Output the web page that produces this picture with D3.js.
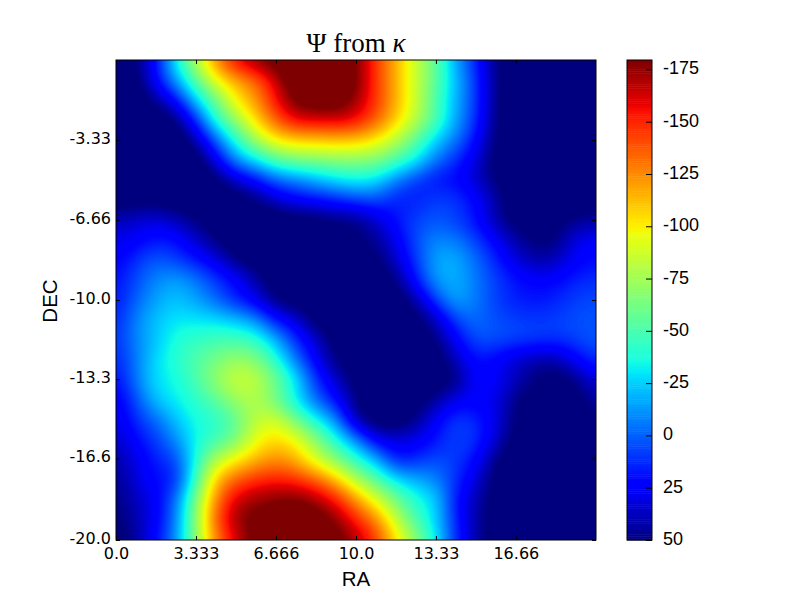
<!DOCTYPE html>
<html>
<head>
<meta charset="utf-8">
<script src="https://cdn.jsdelivr.net/npm/d3@7"></script>
<style>
  html, body { margin: 0; padding: 0; background: #fff; }
  svg { display: block; }
  .tick text { fill: #000; }
</style>
</head>
<body>
<svg id="chart" width="800" height="600"></svg>
<script>
  const raTicks = [0, 3.333, 6.666, 10, 13.33, 16.66];
  const raLabels = ["0.0", "3.333", "6.666", "10.0", "13.33", "16.66"];
  const decTicks = [-3.33, -6.66, -10, -13.3, -16.6, -20];
  const decLabels = ["-3.33", "-6.66", "-10.0", "-13.3", "-16.6", "-20.0"];
  const barTicks = [-175, -150, -125, -100, -75, -50, -25, 0, 25, 50];
  const barLabels = ["-175", "-150", "-125", "-100", "-75", "-50", "-25", "0", "25", "50"];

  // psi, one row per 0.833 in DEC, one column per 0.833 in RA
  const psi = [
    [60, 50, 20, -33, -80, -125, -160, -178, -190, -200, -200, -195, -178, -145, -115, -85, -55, -15, 15, 50, 60, 60, 60, 60, 60],
    [60, 56, 22, -15, -55, -95, -118, -135, -165, -195, -205, -205, -180, -145, -115, -85, -55, -20, 10, 48, 60, 60, 60, 60, 60],
    [60, 60, 45, 20, -25, -60, -100, -122, -155, -182, -190, -190, -172, -145, -115, -85, -50, -18, 10, 50, 60, 60, 60, 60, 60],
    [60, 60, 60, 50, 12, -40, -72, -105, -135, -158, -160, -162, -155, -135, -108, -80, -50, -15, 12, 50, 60, 60, 60, 60, 60],
    [60, 60, 60, 60, 40, 0, -40, -75, -100, -108, -110, -112, -110, -100, -80, -55, -25, -5, 22, 52, 60, 60, 60, 60, 60],
    [60, 60, 60, 60, 60, 28, -10, -30, -52, -62, -65, -68, -68, -65, -50, -32, -5, 12, 32, 55, 60, 60, 60, 60, 60],
    [60, 60, 60, 60, 60, 55, 35, 20, 0, -8, -18, -28, -33, -28, -8, 8, 18, 22, 35, 52, 60, 60, 60, 60, 60],
    [58, 56, 56, 58, 60, 60, 58, 50, 35, 25, 20, 15, 8, 5, 15, 15, 8, 10, 22, 42, 60, 60, 60, 60, 55],
    [40, 35, 32, 40, 50, 58, 60, 60, 60, 58, 55, 50, 48, 35, 18, 8, 3, 8, 20, 42, 55, 58, 55, 48, 45],
    [30, 25, 18, 20, 35, 50, 58, 60, 60, 60, 60, 58, 52, 45, 28, 5, -8, -5, 8, 25, 42, 52, 50, 30, 25],
    [25, 12, 2, 8, 18, 30, 50, 58, 60, 60, 60, 60, 58, 55, 35, 10, -15, -17, -2, 15, 32, 42, 38, 25, 20],
    [20, 5, -8, -14, -5, 10, 22, 42, 58, 60, 60, 60, 60, 58, 50, 18, -12, -17, -5, 8, 18, 24, 22, 15, 12],
    [18, 0, -15, -22, -15, -2, 15, 28, 50, 58, 60, 60, 60, 60, 58, 42, 8, -15, -5, 8, 16, 18, 15, 8, 6],
    [15, -8, -22, -30, -30, -28, -22, -10, 18, 32, 56, 60, 60, 60, 60, 56, 38, 8, -2, 5, 8, 10, 8, 5, 3],
    [12, -8, -22, -38, -43, -48, -48, -42, -18, 12, 35, 56, 60, 60, 60, 58, 50, 25, 5, 5, 8, 10, 12, 8, 3],
    [15, -5, -28, -40, -52, -62, -72, -65, -40, -5, 25, 50, 58, 60, 60, 60, 58, 38, 20, 25, 35, 42, 42, 25, 12],
    [22, -5, -28, -35, -50, -70, -85, -82, -60, -30, 10, 35, 55, 60, 60, 60, 58, 50, 22, 25, 38, 50, 55, 48, 30],
    [28, 5, -22, -32, -42, -55, -72, -78, -60, -32, -2, 20, 50, 60, 60, 56, 45, 28, 25, 30, 50, 58, 60, 56, 42],
    [32, 12, -2, -22, -36, -42, -58, -82, -88, -62, -35, -10, 40, 56, 58, 48, 25, 10, 15, 30, 52, 60, 60, 60, 52],
    [38, 22, 8, -10, -35, -48, -65, -95, -105, -95, -68, -38, -10, 25, 32, 28, 18, 8, 12, 35, 56, 60, 60, 60, 60],
    [42, 30, 15, 5, -38, -80, -100, -115, -125, -115, -90, -68, -42, -20, 15, 12, 5, 10, 22, 50, 60, 60, 60, 60, 60],
    [48, 32, 20, 12, -48, -110, -135, -148, -152, -148, -135, -112, -80, -55, -30, -18, -8, 12, 32, 55, 60, 60, 60, 60, 60],
    [50, 38, 25, -5, -65, -125, -162, -172, -178, -180, -170, -152, -122, -92, -62, -38, -25, 18, 40, 56, 60, 60, 60, 60, 60],
    [55, 40, 25, -8, -70, -135, -172, -185, -192, -195, -190, -175, -150, -125, -85, -50, -25, 15, 42, 58, 60, 60, 60, 60, 60],
    [58, 45, 20, -12, -68, -125, -160, -185, -195, -198, -195, -188, -170, -145, -105, -70, -32, 12, 42, 58, 60, 60, 60, 60, 60]
  ];

  // matplotlib jet
  const jetStops = [0, 0.11, 0.125, 0.34, 0.35, 0.375, 0.64, 0.65, 0.66, 0.89, 0.91, 1];
  const jetColors = ["#00007f", "#0000ff", "#0000fe", "#00dbff", "#00e6f7", "#15ffe2",
    "#efff08", "#f7f500", "#ffec00", "#ff1300", "#e80000", "#7f0000"];

  const svg = d3.select("#chart");
  const plot = { left: 116, right: 596, top: 60, bottom: 540 };
  const bar = { left: 627, right: 652 };
  const vTop = -179.5, vBottom = 50;

  const x = d3.scaleLinear().domain([0, 20]).range([plot.left, plot.right]);
  const y = d3.scaleLinear().domain([0, -20]).range([plot.top, plot.bottom]);
  const yBar = d3.scaleLinear().domain([vTop, vBottom]).range([plot.top, plot.bottom]);

  const toJet = d3.scaleLinear().domain([vBottom, vTop]).range([0, 1]).clamp(true);
  const jet = d3.scaleLinear().domain(jetStops).range(jetColors);
  const color = v => jet(toJet(v));

  // smooth image: upsample the read values with catmull-rom, then a light blur
  const zoomBy = 8;
  const nGrid = psi.length;
  const nFine = (nGrid - 1) * zoomBy + 1;

  function catmull(a, b, c, d, t) {
    return b + 0.5 * t * (c - a + t * (2 * a - 5 * b + 4 * c - d + t * (3 * (b - c) + d - a)));
  }
  const at = (r, c) => psi[Math.max(0, Math.min(nGrid - 1, r))][Math.max(0, Math.min(nGrid - 1, c))];

  function sample(r, c) {
    const r0 = Math.min(Math.floor(r), nGrid - 2), c0 = Math.min(Math.floor(c), nGrid - 2);
    const tr = r - r0, tc = c - c0;
    const rows = d3.range(-1, 3).map(k =>
      catmull(at(r0 + k, c0 - 1), at(r0 + k, c0), at(r0 + k, c0 + 1), at(r0 + k, c0 + 2), tc));
    return catmull(rows[0], rows[1], rows[2], rows[3], tr);
  }

  const fine = new Float64Array(nFine * nFine);
  for (let j = 0; j < nFine; j++) {
    for (let i = 0; i < nFine; i++) {
      fine[j * nFine + i] = sample(j / zoomBy, i / zoomBy);
    }
  }
  d3.blur2({ data: fine, width: nFine, height: nFine }, 3);

  const levels = d3.range(vTop + 1, vBottom + 1, 1);
  const contours = d3.contours().size([nFine, nFine]).thresholds(levels)(fine);

  const fx = d3.scaleLinear().domain([0.5, nFine - 0.5]).range(x.domain());
  const fy = d3.scaleLinear().domain([0.5, nFine - 0.5]).range(y.domain());
  const path = d3.geoPath(d3.geoTransform({
    point(px, py) { this.stream.point(x(fx(px)), y(fy(py))); }
  }));

  svg.append("clipPath").attr("id", "plotClip").append("rect")
    .attr("x", plot.left).attr("y", plot.top)
    .attr("width", plot.right - plot.left).attr("height", plot.bottom - plot.top);

  const image = svg.append("g").attr("clip-path", "url(#plotClip)");
  image.append("rect")
    .attr("x", plot.left).attr("y", plot.top)
    .attr("width", plot.right - plot.left).attr("height", plot.bottom - plot.top)
    .attr("fill", color(vTop));
  image.selectAll("path")
    .data(contours)
    .enter()
    .append("path")
    .attr("d", path)
    .attr("fill", d => color(d.value));

  // axes, ticks point inward on all four sides
  const tickFont = "'DejaVu Sans', sans-serif";

  const xAxis = svg.append("g")
    .attr("transform", `translate(0,${plot.bottom})`)
    .call(d3.axisBottom(x).tickValues(raTicks).tickFormat((d, i) => raLabels[i]).tickSizeInner(-4).tickSizeOuter(0).tickPadding(8));
  const yAxis = svg.append("g")
    .attr("transform", `translate(${plot.left},0)`)
    .call(d3.axisLeft(y).tickValues(decTicks).tickFormat((d, i) => decLabels[i]).tickSizeInner(-4).tickSizeOuter(0).tickPadding(5));
  const xTop = svg.append("g")
    .attr("transform", `translate(0,${plot.top})`)
    .call(d3.axisTop(x).tickValues(raTicks).tickFormat("").tickSizeInner(-4).tickSizeOuter(0));
  const yRight = svg.append("g")
    .attr("transform", `translate(${plot.right},0)`)
    .call(d3.axisRight(y).tickValues(decTicks).tickFormat("").tickSizeInner(-4).tickSizeOuter(0));

  [xAxis, yAxis, xTop, yRight].forEach(a => {
    a.select(".domain").remove();
    a.selectAll("text").attr("font-family", tickFont).attr("font-size", 16);
  });
  yAxis.selectAll("text").attr("dy", "0.2em");

  svg.append("rect")
    .attr("x", plot.left).attr("y", plot.top)
    .attr("width", plot.right - plot.left).attr("height", plot.bottom - plot.top)
    .attr("fill", "none").attr("stroke", "#000").attr("stroke-width", 1);

  svg.append("text")
    .attr("x", x(10)).attr("y", 52)
    .attr("text-anchor", "middle")
    .attr("font-family", "'Liberation Serif', serif")
    .attr("font-size", 27)
    .html('\u03A8 from <tspan font-style="italic">\u03BA</tspan>');

  svg.append("text")
    .attr("x", x(10)).attr("y", 586)
    .attr("text-anchor", "middle")
    .attr("font-family", "'Liberation Sans', sans-serif")
    .attr("font-size", 20.5)
    .text("RA");

  svg.append("text")
    .attr("transform", `translate(57,${y(-10) + 1}) rotate(-90)`)
    .attr("text-anchor", "middle")
    .attr("font-family", "'Liberation Sans', sans-serif")
    .attr("font-size", 20.5)
    .text("DEC");

  // colorbar
  const barSteps = d3.range(vTop, vBottom, (vBottom - vTop) / 256);
  svg.append("g").selectAll("rect")
    .data(barSteps)
    .enter()
    .append("rect")
    .attr("x", bar.left)
    .attr("y", d => yBar(d))
    .attr("width", bar.right - bar.left)
    .attr("height", (plot.bottom - plot.top) / 256 + 0.5)
    .attr("fill", d => color(d));

  svg.append("rect")
    .attr("x", bar.left).attr("y", plot.top)
    .attr("width", bar.right - bar.left).attr("height", plot.bottom - plot.top)
    .attr("fill", "none").attr("stroke", "#000").attr("stroke-width", 1);

  const barAxis = svg.append("g")
    .attr("transform", `translate(${bar.right},0)`)
    .call(d3.axisRight(yBar).tickValues(barTicks).tickFormat((d, i) => barLabels[i]).tickSizeInner(-6).tickSizeOuter(0).tickPadding(11));
  barAxis.select(".domain").remove();
  barAxis.selectAll("text").attr("font-family", "'Liberation Sans', sans-serif").attr("font-size", 18).attr("dy", "0.25em");
</script>
</body>
</html>
